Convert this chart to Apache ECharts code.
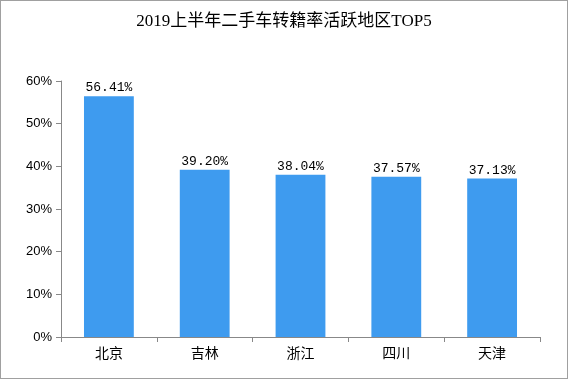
<!DOCTYPE html>
<html><head><meta charset="utf-8">
<script src="https://cdn.jsdelivr.net/npm/echarts@6/dist/echarts.min.js"></script>
<style>html,body{margin:0;padding:0;background:#fff}
#c{width:568px;height:379px;box-sizing:border-box;border:1px solid #a0a0a0}</style>
</head><body><div id="c"></div>
<script>
const categories = ['北京','吉林','浙江','四川','天津'];
const values = [56.41, 39.20, 38.04, 37.57, 37.13];
const titleText = '2019上半年二手车转籍率活跃地区TOP5';

const chart = echarts.init(document.getElementById('c'), null, {renderer:'canvas'});
chart.setOption({
  animation:false,
  title:{text:titleText,left:'center',top:7,
    textStyle:{fontFamily:'"Liberation Serif","Noto Sans CJK SC",serif',fontSize:17,fontWeight:'normal',color:'#000'}},
  grid:{left:60,right:27,top:80,bottom:41,containLabel:false},
  xAxis:{type:'category',data:categories,
    axisLine:{lineStyle:{color:'#888'}},
    axisTick:{show:true,alignWithLabel:false,length:5,lineStyle:{color:'#888'}},
    axisLabel:{color:'#000',fontSize:14,margin:9,fontFamily:'"Noto Sans CJK SC",sans-serif'}},
  yAxis:{type:'value',min:0,max:60,interval:10,
    axisLine:{show:true,lineStyle:{color:'#888'}},
    axisTick:{show:true,length:5,lineStyle:{color:'#888'}},
    splitLine:{show:false},
    axisLabel:{color:'#000',fontSize:13,margin:9,formatter:'{value}%',fontFamily:'"Liberation Sans",sans-serif'}},
  series:[{type:'bar',data:values,barWidth:'52%',
    itemStyle:{color:'#3e9bef'},
    label:{show:true,position:'top',distance:2,color:'#000',fontSize:13,
      fontFamily:'"Liberation Mono",monospace',
      formatter:p=>p.value.toFixed(2)+'%'}}]
});
</script></body></html>
